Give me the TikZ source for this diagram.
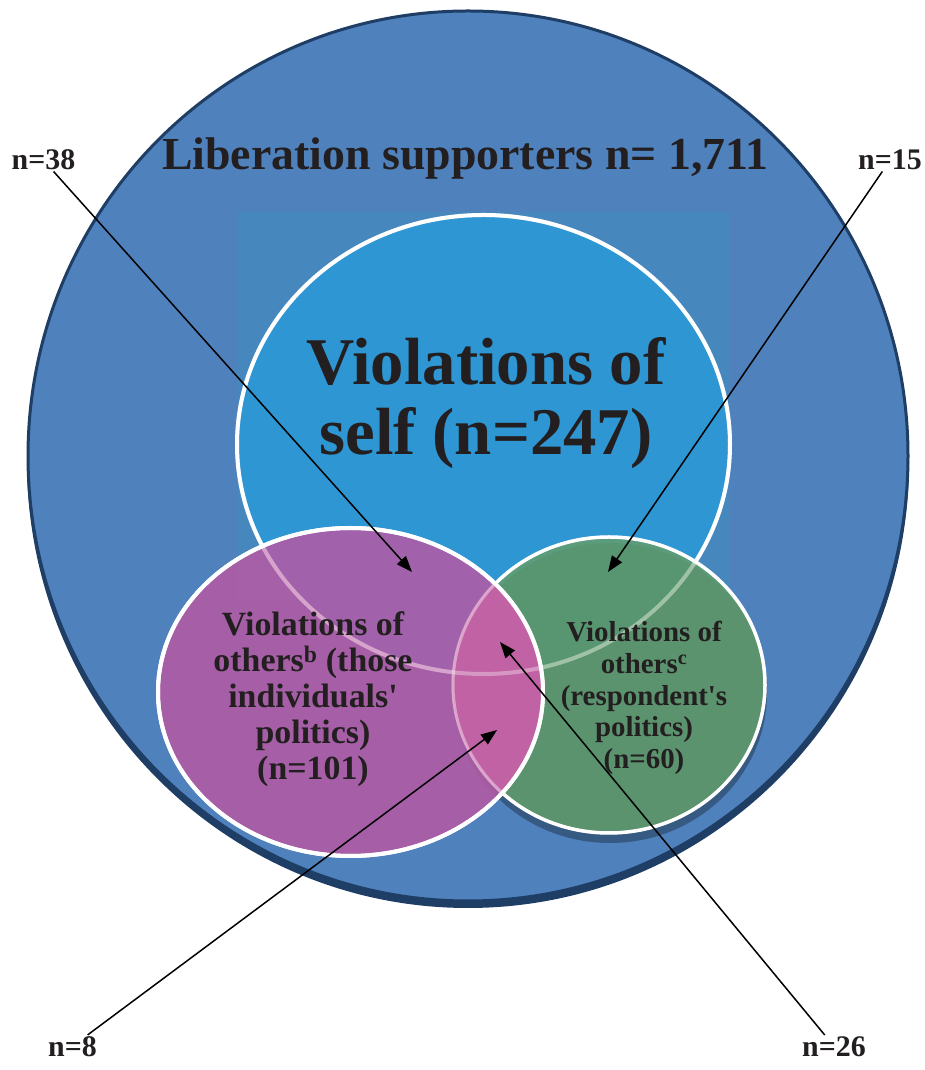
\documentclass[tikz,border=0pt]{standalone}
\usepackage{fontspec}
\setmainfont{Liberation Serif}
\usetikzlibrary{arrows.meta}
\definecolor{outerblue}{HTML}{4F81BD}
\definecolor{outerline}{HTML}{1F3E66}
\definecolor{panelblue}{HTML}{4687BD}
\definecolor{selfblue}{HTML}{2E96D3}
\definecolor{otherspink}{HTML}{B65AA4}
\definecolor{othersgreen}{HTML}{629E6C}
\definecolor{bothpink}{HTML}{C662A6}
\definecolor{inkdark}{HTML}{231F20}

\begin{document}
\begin{tikzpicture}[>={Triangle[length=16bp,width=12bp]},line join=bevel,
  lbl/.style={draw=none,inner sep=1bp,text=inkdark,font=\fontsize{30}{32}\selectfont\bfseries},
  ringtext/.style={draw=none,align=center,text=inkdark},
  pointer/.style={black,line width=1.5bp,->}]
%%
\useasboundingbox[fill=white] (0bp,0bp) rectangle (925bp,1070bp);
% supporters
\fill [outerline] (468bp,608bp) ellipse [x radius=441bp,y radius=446bp];
\filldraw [fill=outerblue,draw=outerline,line width=3bp] (468bp,614bp) ellipse [x radius=440bp,y radius=445bp];
\fill [panelblue] (237bp,470bp) rectangle (730bp,858bp);
% self
\filldraw [fill=selfblue,draw=white,line width=4bp] (483.5bp,625.5bp) ellipse [x radius=246.5bp,y radius=229.5bp];
% others, respondent
\fill [black,opacity=0.3] (610bp,377bp) ellipse [x radius=157bp,y radius=150bp];
\filldraw [fill=othersgreen,fill opacity=0.85,draw=white,line width=3.5bp] (609bp,385bp) ellipse [x radius=156bp,y radius=148bp];
% others, individuals
\filldraw [fill=otherspink,fill opacity=0.85,draw=white,line width=4bp] (350.5bp,378bp) ellipse [x radius=192.5bp,y radius=164bp];
\begin{scope}
  \clip (609bp,385bp) ellipse [x radius=156bp,y radius=148bp];
  \fill [bothpink,opacity=0.85] (350.5bp,378bp) ellipse [x radius=192.5bp,y radius=164bp];
\end{scope}
\draw [white,opacity=0.4,line width=3bp] (609bp,385bp) ellipse [x radius=156bp,y radius=148bp];
\draw [white,opacity=0.35,line width=4bp] (483.5bp,625.5bp) ellipse [x radius=246.5bp,y radius=229.5bp];
\draw [white,line width=4bp] (350.5bp,378bp) ellipse [x radius=192.5bp,y radius=164bp];
%
\node (txt_all) at (465.5bp,900bp) [ringtext,anchor=base,font=\fontsize{46}{50}\selectfont\bfseries] {Liberation supporters n= 1,711};
\node (txt_self) at (486bp,667bp) [ringtext,font=\fontsize{67}{70}\selectfont\bfseries] {Violations of\\self (n=247)};
\node (txt_pink) at (313bp,371bp) [ringtext,font=\fontsize{34}{36}\selectfont\bfseries] {Violations of\\others\textsuperscript{b} (those\\individuals\textquotesingle\\politics)\\(n=101)};
\node (txt_green) at (644bp,372bp) [ringtext,font=\fontsize{29}{32}\selectfont\bfseries] {Violations of\\others\textsuperscript{c}\\(respondent\textquotesingle s\\politics)\\(n=60)};
%
\node (lbl_38) at (43.5bp,900bp) [lbl,anchor=base] {n=38};
\node (lbl_15) at (890bp,900bp) [lbl,anchor=base] {n=15};
\node (lbl_8) at (72.5bp,14bp) [lbl,anchor=base] {n=8};
\node (lbl_26) at (834bp,14bp) [lbl,anchor=base] {n=26};
\coordinate (tip_38) at (412bp,498bp);
\coordinate (tip_15) at (608bp,498bp);
\coordinate (tip_8) at (497bp,340bp);
\coordinate (tip_26) at (500bp,428bp);
\draw [pointer] (lbl_38) -- (tip_38);
\draw [pointer] (lbl_15) -- (tip_15);
\draw [pointer] (lbl_8) -- (tip_8);
\draw [pointer] (lbl_26) -- (tip_26);
%
\end{tikzpicture}
\end{document}
